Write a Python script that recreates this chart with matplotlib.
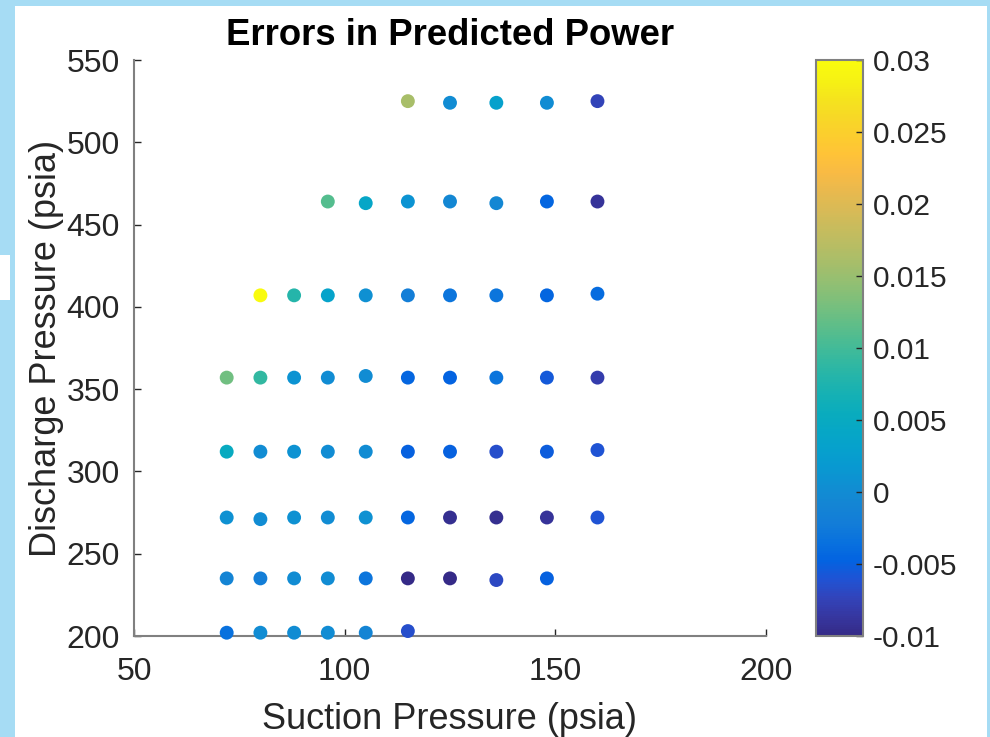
import numpy as np
import matplotlib.pyplot as plt
from matplotlib.colors import LinearSegmentedColormap
from matplotlib.patches import Rectangle

plt.rcParams['font.family'] = ['Liberation Sans', 'DejaVu Sans']

# approximate MATLAB parula colormap
parula_pts = [
    (0.2081, 0.1663, 0.5292), (0.2123, 0.2138, 0.6270), (0.1959, 0.2645, 0.7279),
    (0.1253, 0.3242, 0.8303), (0.0117, 0.3875, 0.8820), (0.0329, 0.4430, 0.8720),
    (0.0723, 0.4887, 0.8467), (0.0793, 0.5200, 0.8312), (0.0641, 0.5570, 0.8240),
    (0.0343, 0.5966, 0.8199), (0.0239, 0.6287, 0.8038), (0.0228, 0.6535, 0.7768),
    (0.0384, 0.6743, 0.7436), (0.0843, 0.6928, 0.7062), (0.1453, 0.7098, 0.6646),
    (0.2178, 0.7250, 0.6193), (0.3022, 0.7376, 0.5712), (0.3953, 0.7459, 0.5244),
    (0.4871, 0.7491, 0.4840), (0.5709, 0.7485, 0.4494), (0.6473, 0.7456, 0.4188),
    (0.7184, 0.7411, 0.3905), (0.7858, 0.7356, 0.3633), (0.8507, 0.7299, 0.3360),
    (0.9139, 0.7258, 0.3063), (0.9739, 0.7314, 0.2666), (0.9990, 0.7653, 0.2164),
    (0.9880, 0.8066, 0.1794), (0.9697, 0.8481, 0.1475), (0.9589, 0.8949, 0.1132),
    (0.9661, 0.9514, 0.0755), (0.9763, 0.9831, 0.0538),
]
parula = LinearSegmentedColormap.from_list('parula', parula_pts)

# data, one row of discharge pressure at a time
suction = [
    [115, 125, 136, 148, 160],
    [96, 105, 115, 125, 136, 148, 160],
    [80, 88, 96, 105, 115, 125, 136, 148, 160],
    [72, 80, 88, 96, 105, 115, 125, 136, 148, 160],
    [72, 80, 88, 96, 105, 115, 125, 136, 148, 160],
    [72, 80, 88, 96, 105, 115, 125, 136, 148, 160],
    [72, 80, 88, 96, 105, 115, 125, 136, 148],
    [72, 80, 88, 96, 105, 115],
]
discharge = [
    [525, 524, 524, 524, 525],
    [464, 463, 464, 464, 463, 464, 464],
    [407, 407, 407, 407, 407, 407, 407, 407, 408],
    [357, 357, 357, 357, 358, 357, 357, 357, 357, 357],
    [312, 312, 312, 312, 312, 312, 312, 312, 312, 313],
    [272, 271, 272, 272, 272, 272, 272, 272, 272, 272],
    [235, 235, 235, 235, 235, 235, 235, 234, 235],
    [202, 202, 202, 202, 202, 203],
]
error = [
    [0.016, 0.0, 0.003, 0.0, -0.0075],
    [0.011, 0.004, 0.001, -0.0005, -0.0005, -0.0045, -0.009],
    [0.030, 0.008, 0.0035, 0.0005, -0.002, -0.003, -0.003, -0.0045, -0.004],
    [0.0125, 0.009, 0.001, 0.0, 0.0, -0.0045, -0.0048, -0.003, -0.0055, -0.008],
    [0.005, 0.0, 0.0008, 0.0, 0.0, -0.005, -0.005, -0.0065, -0.0052, -0.006],
    [0.0007, 0.0, 0.0007, 0.0, 0.0007, -0.0045, -0.0095, -0.0095, -0.009, -0.006],
    [-0.001, -0.002, 0.0, 0.0, -0.003, -0.01, -0.01, -0.007, -0.005],
    [-0.0035, 0.0, 0.0, 0.0, -0.001, -0.0065],
]

x = np.concatenate([np.array(r, float) for r in suction])
y = np.concatenate([np.array(r, float) for r in discharge])
c = np.concatenate([np.array(r, float) for r in error])

fig = plt.figure(figsize=(9.9, 7.37), dpi=100, facecolor='#a6dcf4')
# white figure area on the slide background
fig.patches.append(Rectangle((15/990, 0), 972/990, 731/737, transform=fig.transFigure,
                             facecolor='white', edgecolor='none', zorder=-1))
fig.patches.append(Rectangle((0, 437/737), 10/990, 45/737, transform=fig.transFigure,
                             facecolor='white', edgecolor='none', zorder=-1))

ax = fig.add_axes([134/990, 101/737, 632/990, 576/737])
ax.set_facecolor('none')
sc = ax.scatter(x, y, c=c, cmap=parula, vmin=-0.01, vmax=0.03, s=100,
                edgecolors='none', zorder=3, clip_on=False)
ax.set_xlim(50, 200)
ax.set_ylim(200, 550)
ax.set_xticks([50, 100, 150, 200])
ax.set_yticks([200, 250, 300, 350, 400, 450, 500, 550])
for side in ['top', 'right']:
    ax.spines[side].set_visible(False)
for side in ['left', 'bottom']:
    ax.spines[side].set_color('#808080')
    ax.spines[side].set_linewidth(1.5)
ax.tick_params(direction='in', length=5, width=1, colors='#262626',
               labelsize=23, labelcolor='#262626')
ax.tick_params(axis='y', pad=10)
ax.tick_params(axis='x', pad=15)
ax.set_xlabel('Suction Pressure (psia)', fontsize=26, color='#262626', labelpad=11)
ax.set_ylabel('Discharge Pressure (psia)', fontsize=26, color='#262626', labelpad=2)
ax.set_title('Errors in Predicted Power', fontsize=26.3, fontweight='bold', pad=11)

cax = fig.add_axes([816/990, 101/737, 47/990, 576/737])
cb = fig.colorbar(sc, cax=cax)
cb.set_ticks([-0.01, -0.005, 0, 0.005, 0.01, 0.015, 0.02, 0.025, 0.03])
cb.set_ticklabels(['-0.01', '-0.005', '0', '0.005', '0.01', '0.015', '0.02', '0.025', '0.03'])
cb.outline.set_edgecolor('#808080')
cb.outline.set_linewidth(1.5)
cax.tick_params(direction='in', length=5, width=1, colors='#262626',
                labelsize=21.5, labelcolor='#262626', pad=7)

fig.savefig('out.png', dpi=100, facecolor=fig.get_facecolor())
